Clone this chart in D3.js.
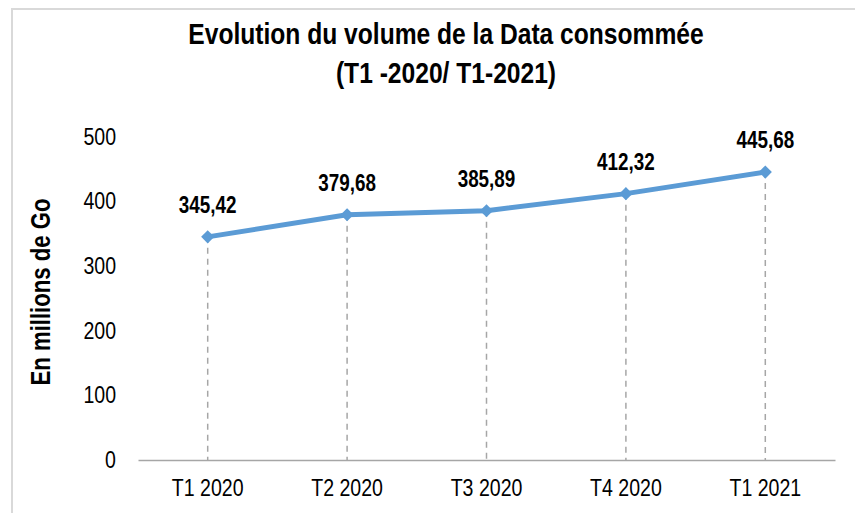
<!DOCTYPE html>
<html>
<head>
<meta charset="utf-8">
<script src="https://cdn.jsdelivr.net/npm/d3@7"></script>
<style>
  body { margin: 0; background: #fff; }
  text { font-family: "Liberation Sans", Arial, sans-serif; }
</style>
</head>
<body>
<div id="chart"></div>
<script>
// data
var categories = ["T1 2020", "T2 2020", "T3 2020", "T4 2020", "T1 2021"];
var values = [345.42, 379.68, 385.89, 412.32, 445.68];
var yTicks = [0, 100, 200, 300, 400, 500];

var W = 855, H = 513;
var margin = {top: 137, left: 138},
    width = 835 - margin.left,
    height = 460 - margin.top;

// squeeze text horizontally to mimic a narrow font
function narrow(sel, k) {
  sel.each(function() {
    var len = this.getComputedTextLength();
    d3.select(this)
      .attr("textLength", len * k)
      .attr("lengthAdjust", "spacingAndGlyphs");
  });
}

var svg = d3.select("#chart")
  .append("svg")
    .attr("width", W)
    .attr("height", H);

// chart border
svg.append("rect")
  .attr("x", 12).attr("y", 9)
  .attr("width", W + 20).attr("height", H + 20)
  .attr("fill", "none")
  .attr("stroke", "#d9d9d9")
  .attr("stroke-width", 2);

var g = svg.append("g")
  .attr("transform", "translate(" + margin.left + "," + margin.top + ")");

var x = d3.scaleBand()
  .domain(categories)
  .range([0, width]);

var y = d3.scaleLinear()
  .domain([0, 500])
  .range([height, 0]);

var fmt = function(v) { return d3.format(".2f")(v).replace(".", ","); };

// x axis
var xAxis = g.append("g")
  .attr("transform", "translate(0," + height + ")")
  .call(d3.axisBottom(x).tickSize(0).tickPadding(20));
xAxis.select(".domain").attr("stroke", "#a6a6a6").attr("stroke-width", 1.5);
xAxis.selectAll("text")
  .attr("font-size", "23px").attr("fill", "#000")
  .attr("font-family", "'Liberation Sans', Arial, sans-serif")
  .call(narrow, 0.85);

// y axis (labels only)
var yAxis = g.append("g")
  .call(d3.axisLeft(y).tickValues(yTicks).tickSize(0).tickPadding(22));
yAxis.select(".domain").remove();
yAxis.selectAll("text")
  .attr("font-size", "23px").attr("fill", "#000")
  .attr("font-family", "'Liberation Sans', Arial, sans-serif")
  .call(narrow, 0.85);

// drop lines
g.append("g")
  .selectAll("line")
  .data(values)
  .enter()
  .append("line")
    .attr("x1", function(d, i) { return x(categories[i]) + x.bandwidth() / 2; })
    .attr("x2", function(d, i) { return x(categories[i]) + x.bandwidth() / 2; })
    .attr("y1", function(d) { return y(d); })
    .attr("y2", height)
    .attr("stroke", "#a6a6a6")
    .attr("stroke-width", 1.5)
    .attr("stroke-dasharray", "6,5");

// line
var line = d3.line()
  .x(function(d, i) { return x(categories[i]) + x.bandwidth() / 2; })
  .y(function(d) { return y(d); });

g.append("path")
  .datum(values)
  .attr("d", line)
  .attr("fill", "none")
  .attr("stroke", "#5b9bd5")
  .attr("stroke-width", 5)
  .attr("stroke-linejoin", "round");

// diamond markers
g.append("g")
  .selectAll("path")
  .data(values)
  .enter()
  .append("path")
    .attr("d", d3.symbol().type(d3.symbolDiamond2).size(110))
    .attr("transform", function(d, i) {
      return "translate(" + (x(categories[i]) + x.bandwidth() / 2) + "," + y(d) + ")";
    })
    .attr("fill", "#5b9bd5");

// value labels
g.append("g")
  .selectAll("text")
  .data(values)
  .enter()
  .append("text")
    .attr("x", function(d, i) { return x(categories[i]) + x.bandwidth() / 2; })
    .attr("y", function(d) { return y(d) - 24; })
    .attr("text-anchor", "middle")
    .attr("font-size", "23px")
    .attr("font-weight", "bold")
    .attr("fill", "#000")
    .text(function(d) { return fmt(d); })
    .call(narrow, 0.82);

// title
svg.append("text")
  .attr("x", 446).attr("y", 44)
  .attr("text-anchor", "middle")
  .attr("font-size", "30px")
  .attr("font-weight", "bold")
  .text("Evolution du volume de la Data consommée")
  .call(narrow, 0.82);
svg.append("text")
  .attr("x", 446).attr("y", 83)
  .attr("text-anchor", "middle")
  .attr("font-size", "30px")
  .attr("font-weight", "bold")
  .text("(T1 -2020/ T1-2021)")
  .call(narrow, 0.82);

// y axis label
svg.append("text")
  .attr("transform", "translate(50,292) rotate(-90)")
  .attr("text-anchor", "middle")
  .attr("font-size", "27px")
  .attr("font-weight", "bold")
  .text("En millions de Go")
  .call(narrow, 0.82);
</script>
</body>
</html>
